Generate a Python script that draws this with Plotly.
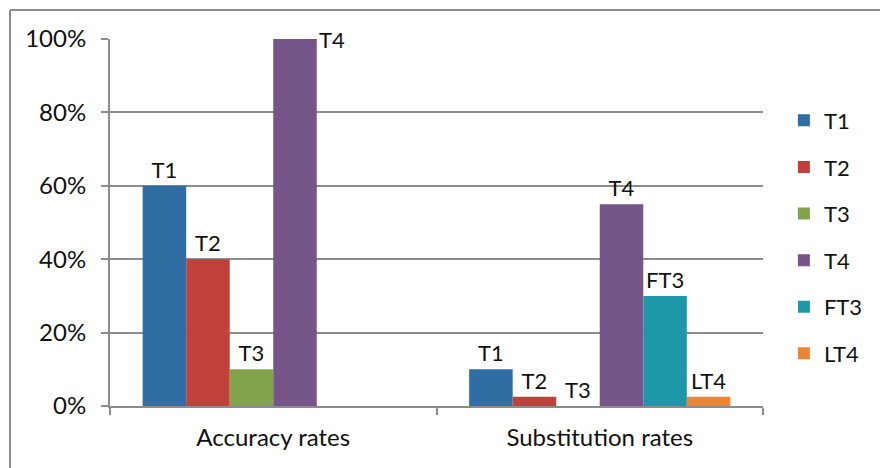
import plotly.graph_objects as go

categories = ["Accuracy rates", "Substitution rates"]
series_names = ["T1", "T2", "T3", "T4", "FT3", "LT4"]
t1 = [0.60, 0.10]
t2 = [0.40, 0.025]
t3 = [0.10, 0.0]
t4 = [1.00, 0.55]
ft3 = [None, 0.30]
lt4 = [None, 0.025]
series_values = [t1, t2, t3, t4, ft3, lt4]
colors = ["#2F6DA3", "#C0403C", "#83A24C", "#76568A", "#1C98A8", "#EE8533"]
y_ticks = [0, 0.2, 0.4, 0.6, 0.8, 1.0]
y_tick_labels = ["0%", "20%", "40%", "60%", "80%", "100%"]

FONT = "Lato, 'Open Sans', sans-serif"

fig = go.Figure()
for i, (name, vals, col) in enumerate(zip(series_names, series_values, colors)):
    texts = []
    for c, v in zip(categories, vals):
        if v is None:
            texts.append("")
        elif v >= 1.0:
            texts.append("")  # labelled beside the bar below
        else:
            texts.append(name)
    fig.add_trace(go.Bar(
        x=categories, y=vals, name=name, marker_color=col,
        marker_line_width=0, text=texts, textposition="outside",
        textfont=dict(size=22, color="#111111", family=FONT),
        cliponaxis=False, constraintext="none",
        legendgroup=name, hoverinfo="x+y+name",
    ))

# label for the bar that reaches the top of the axis, placed at its right
for name, vals in zip(series_names, series_values):
    for c, v in zip(categories, vals):
        if v is not None and v >= 1.0:
            fig.add_annotation(x=c, y=v, xref="x", yref="y", text=name,
                               showarrow=False, xshift=59, yshift=0,
                               font=dict(size=22, color="#111111", family=FONT))

grey = "#8C8C8C"
W, H = 880, 468
L, T, PW, PH = 110, 39, 653, 367
fig.update_layout(
    width=W, height=H,
    margin=dict(l=L, r=W - L - PW, t=T, b=H - T - PH, autoexpand=False),
    paper_bgcolor="white", plot_bgcolor="white",
    barmode="group", bargap=0.2, bargroupgap=0,
    font=dict(family=FONT, color="#111111"),
    showlegend=True,
    legend=dict(x=1.032, xanchor="left", y=0.835, yanchor="top",
                font=dict(size=22, family=FONT, color="#111111"),
                traceorder="grouped", tracegroupgap=15,
                bgcolor="rgba(0,0,0,0)"),
    xaxis=dict(tickson="boundaries", ticks="outside", ticklen=7, tickwidth=2,
               tickcolor=grey, showline=True, linecolor=grey, linewidth=2,
               tickfont=dict(size=24, family=FONT, color="#111111"),
               ticklabelstandoff=9,
               showgrid=False, automargin=False),
    yaxis=dict(range=[0, 1.0], tickvals=y_ticks, ticktext=y_tick_labels,
               ticks="outside", ticklen=7, tickwidth=2, tickcolor=grey,
               showline=True, linecolor=grey, linewidth=2,
               showgrid=True, gridcolor=grey, gridwidth=2,
               tickfont=dict(size=24, family=FONT, color="#111111"),
               ticklabelstandoff=10,
               zeroline=False, automargin=False),
)

# outer chart border: only top and left edges are inside the frame
x_left = (10 - L) / PW
y_top = (T + PH - 10) / PH
fig.add_shape(type="line", xref="paper", yref="paper",
              x0=x_left, x1=(W + 20 - L) / PW, y0=y_top, y1=y_top,
              line=dict(color=grey, width=2), layer="below")
fig.add_shape(type="line", xref="paper", yref="paper",
              x0=x_left, x1=x_left, y0=y_top, y1=-(H + 20 - T - PH) / PH,
              line=dict(color=grey, width=2), layer="below")

fig.write_html(
    "out.html",
    config={"displayModeBar": False},
    post_script="document.body.style.margin='0';document.body.style.overflow='hidden';",
)
